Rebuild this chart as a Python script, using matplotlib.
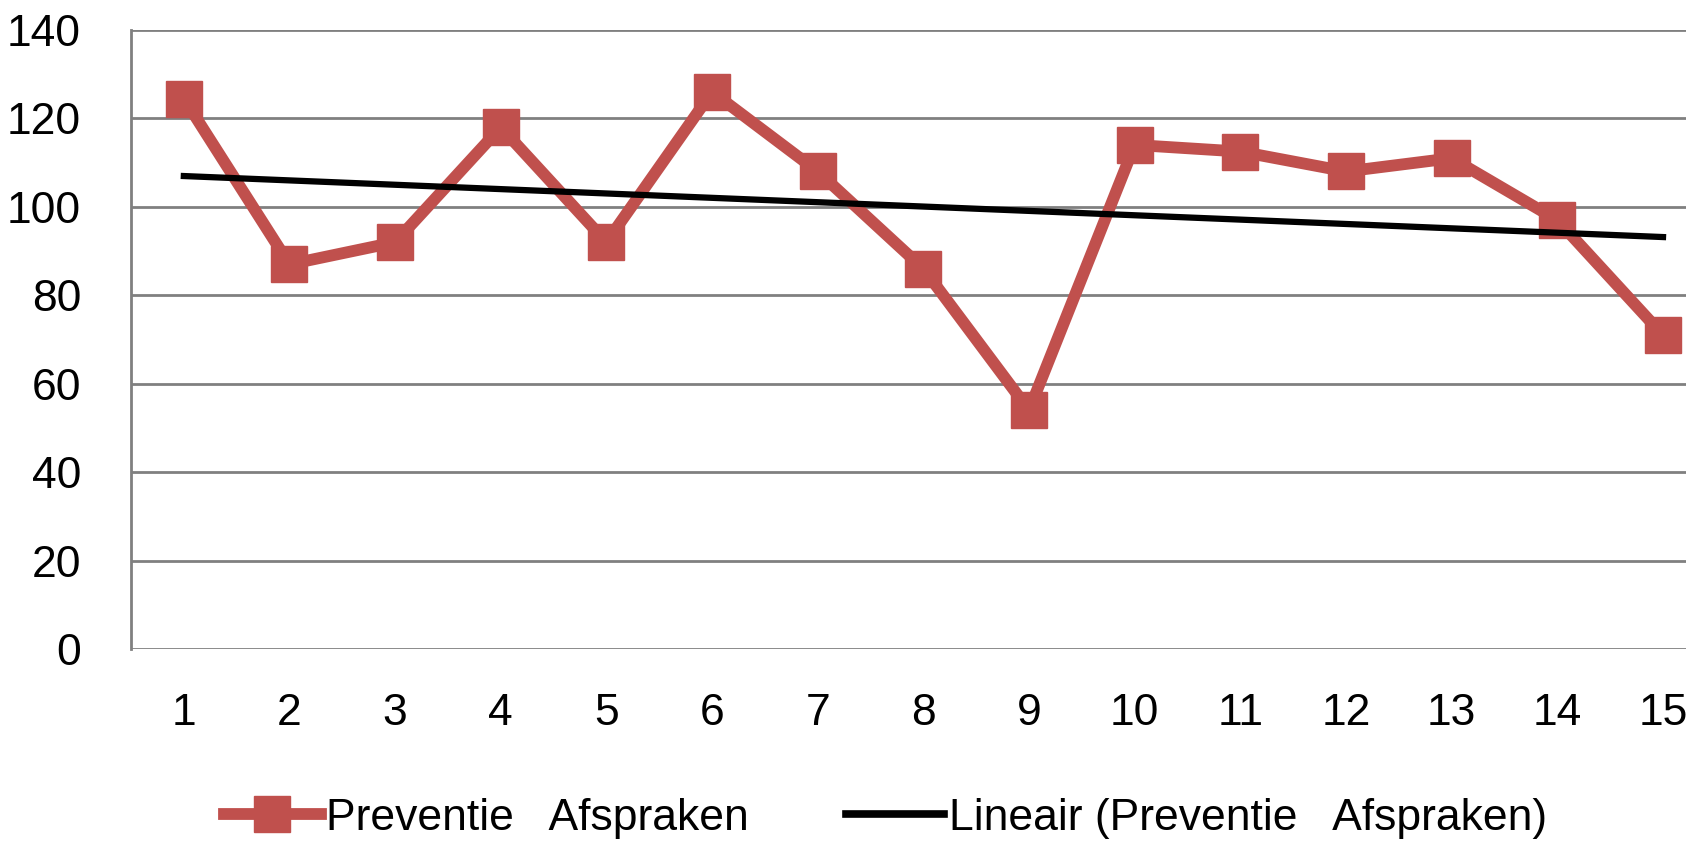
import numpy as np
import matplotlib
matplotlib.use('Agg')
import matplotlib.pyplot as plt
from matplotlib.lines import Line2D

plt.rcParams['font.family'] = ['Liberation Sans Narrow', 'Liberation Sans', 'DejaVu Sans']

# data
weken = list(range(1, 16))
afspraken = [124.5, 87, 92, 118, 92, 126, 108, 86, 54, 114, 112.5, 108, 111, 97, 71]
y_ticks = [0, 20, 40, 60, 80, 100, 120, 140]

rood = '#C0504D'
grijs = '#808080'

fig = plt.figure(figsize=(16.86, 8.42), dpi=100)
ax = fig.add_axes([0.0777, 0.2292, 0.940, 0.7352])

x = np.array(weken)
# lineaire trendlijn zoals in Excel
a, b = np.polyfit(x, afspraken, 1)
ax.plot(x, a * x + b, color='black', lw=4.5, zorder=4)

ax.plot(x, afspraken, color=rood, lw=8.5, marker='s', markersize=26,
        markerfacecolor=rood, markeredgecolor=rood, zorder=3)

ax.set_xlim(0.5, 15.5)
ax.set_ylim(0, 140)
ax.set_yticks(y_ticks)
ax.set_xticks(weken)
ax.tick_params(axis='both', length=0, labelsize=32)
ax.tick_params(axis='y', pad=36)
ax.tick_params(axis='x', pad=32)
ax.yaxis.grid(True, color=grijs, lw=2)
ax.set_axisbelow(True)
for s in ['top', 'right', 'bottom']:
    ax.spines[s].set_visible(False)
ax.spines['left'].set_color(grijs)
ax.spines['left'].set_linewidth(2)

handles = [
    Line2D([], [], color=rood, lw=8.5, marker='s', markersize=26),
    Line2D([], [], color='black', lw=5.5),
]
labels = ['Preventie   Afspraken', 'Lineair (Preventie   Afspraken)']
fig.legend(handles, labels, loc='center', bbox_to_anchor=(0.525, 0.028),
           ncol=2, frameon=False, fontsize=32, handlelength=2.2,
           handletextpad=0.1, columnspacing=2.2)

fig.savefig('out.png', dpi=100)
